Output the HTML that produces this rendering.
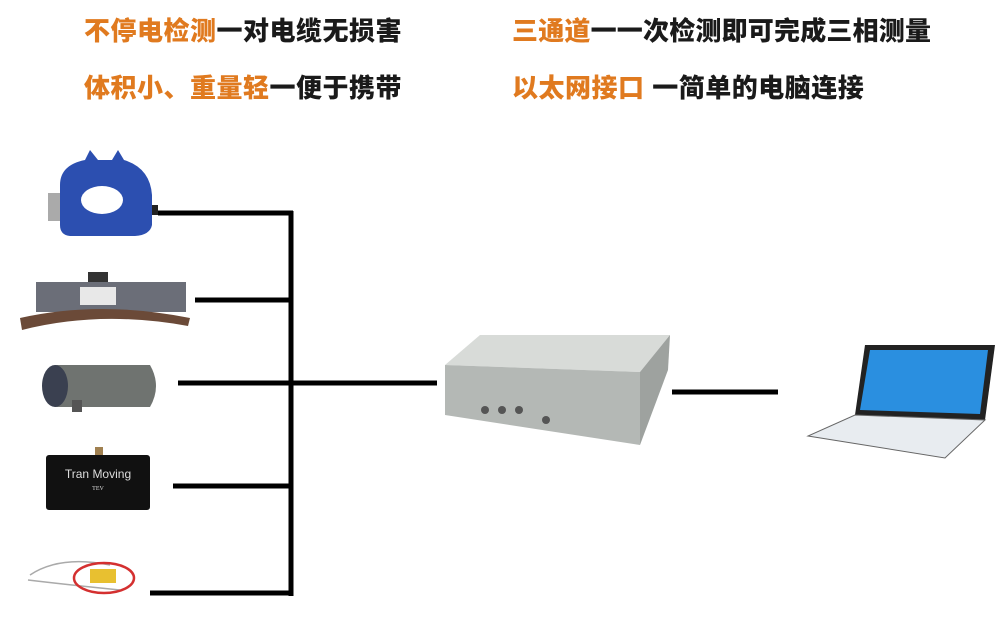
<!DOCTYPE html>
<html><head><meta charset="utf-8"><style>
html,body{margin:0;padding:0;background:#fff;width:1004px;height:625px;overflow:hidden;position:relative}
.t{position:absolute;font-family:"Liberation Sans","Noto Sans CJK SC",sans-serif;font-weight:900;font-size:26px;line-height:28px;color:#1a1a1a;white-space:nowrap;letter-spacing:0.5px}
.o{color:#e07a1f}
</style></head><body>
<div class="t" style="left:84px;top:17px">
<span class="o">不停电检测</span>一对电缆无损害</div>
<div class="t" style="left:512px;top:17px;letter-spacing:0.2px"><span class="o">三通道</span>一一次检测即可完成三相测量</div>
<div class="t" style="left:84px;top:74px"><span class="o">体积小、重量轻</span>一便于携带</div>
<div class="t" style="left:512px;top:74px"><span class="o">以太网接口</span> 一简单的电脑连接</div>
<svg width="1004" height="625" style="position:absolute;left:0;top:0">
<g stroke="#000" stroke-width="5" fill="none">
<line x1="291" y1="211" x2="291" y2="596"/>
<line x1="158" y1="213" x2="293" y2="213"/>
<line x1="195" y1="300" x2="293" y2="300"/>
<line x1="178" y1="383" x2="437" y2="383"/>
<line x1="173" y1="486" x2="293" y2="486"/>
<line x1="150" y1="593" x2="293" y2="593"/>
<line x1="672" y1="392" x2="778" y2="392"/>
</g>
<path d="M60 185 Q60 165 85 160 L90 150 L98 160 L112 160 L118 150 L124 160 Q150 168 152 195 L152 225 Q150 235 135 236 L70 236 Q60 235 60 225 Z" fill="#2c4fb0"/>
<ellipse cx="102" cy="200" rx="21" ry="14" fill="#fff"/>
<rect x="48" y="193" width="12" height="28" fill="#aaa"/>
<rect x="152" y="205" width="6" height="10" fill="#222"/>
<rect x="88" y="272" width="20" height="12" fill="#333"/>
<rect x="36" y="282" width="150" height="30" fill="#6b6e78"/>
<rect x="80" y="287" width="36" height="18" fill="#e8e8e8"/>
<path d="M20 318 Q100 300 190 318 L188 326 Q100 310 22 330 Z" fill="#6b4a38"/>
<path d="M55 365 L150 365 Q162 386 150 407 L55 407 Z" fill="#6f7370"/>
<ellipse cx="55" cy="386" rx="13" ry="21" fill="#3a4050"/>
<rect x="72" y="400" width="10" height="12" fill="#555"/>
<rect x="95" y="447" width="8" height="10" fill="#a08050"/>
<rect x="46" y="455" width="104" height="55" rx="3" fill="#111"/>
<text x="98" y="478" fill="#ddd" font-family="Liberation Sans,sans-serif" font-size="12" text-anchor="middle">Tran Moving</text>
<text x="98" y="490" fill="#ddd" font-family="Liberation Serif,serif" font-size="6" text-anchor="middle">TEV</text>
<path d="M30 575 Q60 555 110 565 M28 580 Q70 585 120 590" stroke="#aaa" stroke-width="1.5" fill="none"/>
<ellipse cx="104" cy="578" rx="30" ry="15" fill="none" stroke="#d43030" stroke-width="2.5"/>
<rect x="90" y="569" width="26" height="14" fill="#e8c030"/>
<path d="M445 365 L480 335 L670 335 L640 372 Z" fill="#d8dbd8"/>
<path d="M445 365 L640 372 L640 445 L445 415 Z" fill="#b4b8b5"/>
<path d="M640 372 L670 335 L668 370 L640 445 Z" fill="#9ea29f"/>
<g fill="#555"><circle cx="485" cy="410" r="4"/><circle cx="502" cy="410" r="4"/><circle cx="519" cy="410" r="4"/><circle cx="546" cy="420" r="4"/></g>
<path d="M865 345 L995 345 L985 420 L855 415 Z" fill="#222"/>
<path d="M870 350 L988 350 L980 414 L860 410 Z" fill="#2a8fe0"/>
<path d="M855 415 L985 420 L945 458 L808 436 Z" fill="#e8ecf0" stroke="#666" stroke-width="1"/>
</svg>
</body></html>
